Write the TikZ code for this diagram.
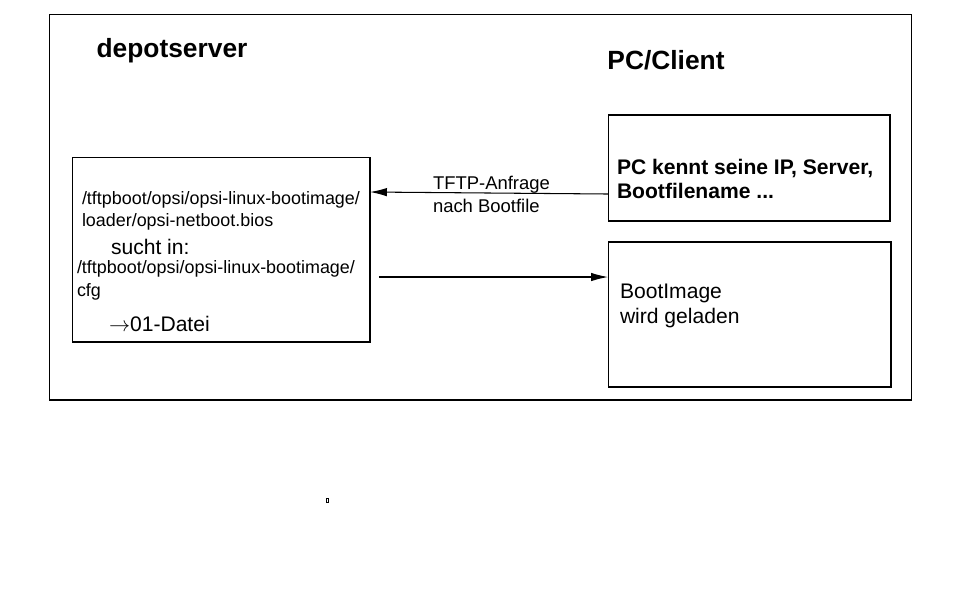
\documentclass[tikz,border=0pt]{standalone}
\usepackage{fontspec}
\setmainfont{Liberation Sans}
\usetikzlibrary{arrows.meta}

\begin{document}
\begin{tikzpicture}[x=0.02cm, y=-0.02cm, >={Latex[length=0.34cm, width=0.17cm]}, line width=0.6pt, inner sep=0pt, outer sep=0pt]
    \useasboundingbox (0, 0) rectangle (960, 600);

    % FRAME
    \node (frame) at (480.5, 207) [draw, minimum width=17.26cm, minimum height=7.72cm] {};
    \node (depot) at (172, 51) [font=\fontsize{15}{18}\selectfont\bfseries] {depotserver};
    \node (client) at (666, 60) [font=\fontsize{15}{18}\selectfont\bfseries] {PC/Client};

    % BLOCKS
    \node (server) at (221, 249.5) [draw, minimum width=5.96cm, minimum height=3.7cm] {};
    \node (pc) at (749, 168) [draw, minimum width=5.64cm, minimum height=2.12cm] {};
    \node (boot) at (749.5, 314.5) [draw, minimum width=5.66cm, minimum height=2.9cm] {};

    % TEXTS
    \node (path1) at (82, 200) [anchor=west, font=\fontsize{10.2}{12}\selectfont] {/tftpboot/opsi/opsi-linux-bootimage/};
    \node (file1) at (82, 222) [anchor=west, font=\fontsize{10.2}{12}\selectfont] {loader/opsi-netboot.bios};
    \node (sucht) at (111, 247) [anchor=west, font=\fontsize{12}{14}\selectfont] {sucht in:};
    \node (path2) at (77, 269) [anchor=west, font=\fontsize{10.2}{12}\selectfont] {/tftpboot/opsi/opsi-linux-bootimage/};
    \node (cfg) at (77, 292) [anchor=west, font=\fontsize{10.2}{12}\selectfont] {cfg};
    \node (datei) at (109, 324) [anchor=west, font=\fontsize{12}{14}\selectfont] {$\rightarrow$01-Datei};

    \node (know1) at (617, 168) [anchor=west, font=\fontsize{12}{14}\selectfont\bfseries] {PC kennt seine IP, Server,};
    \node (know2) at (617, 191) [anchor=west, font=\fontsize{12}{14}\selectfont\bfseries] {Bootfilename ...};
    \node (load1) at (620, 293) [anchor=west, font=\fontsize{12}{14}\selectfont] {BootImage};
    \node (load2) at (620, 318) [anchor=west, font=\fontsize{12}{14}\selectfont] {wird geladen};

    % CONNEXIONS
    \draw[->] (pc.west |- 0, 194) -- (server.east |- 0, 192);
    \node (tftp1) at (433, 185) [anchor=west, font=\fontsize{10.5}{12}\selectfont] {TFTP-Anfrage};
    \node (tftp2) at (433, 206) [anchor=west, font=\fontsize{10.5}{12}\selectfont] {nach Bootfile};

    \draw[->] ([xshift=0.18cm]server.east |- 0, 277) -- (boot.west |- 0, 277);

    % EMPTY TEXT BOX
    \node (dot) at (327.5, 500) [draw, line width=0.5pt, minimum width=0.05cm, minimum height=0.08cm] {};
\end{tikzpicture}
\end{document}
